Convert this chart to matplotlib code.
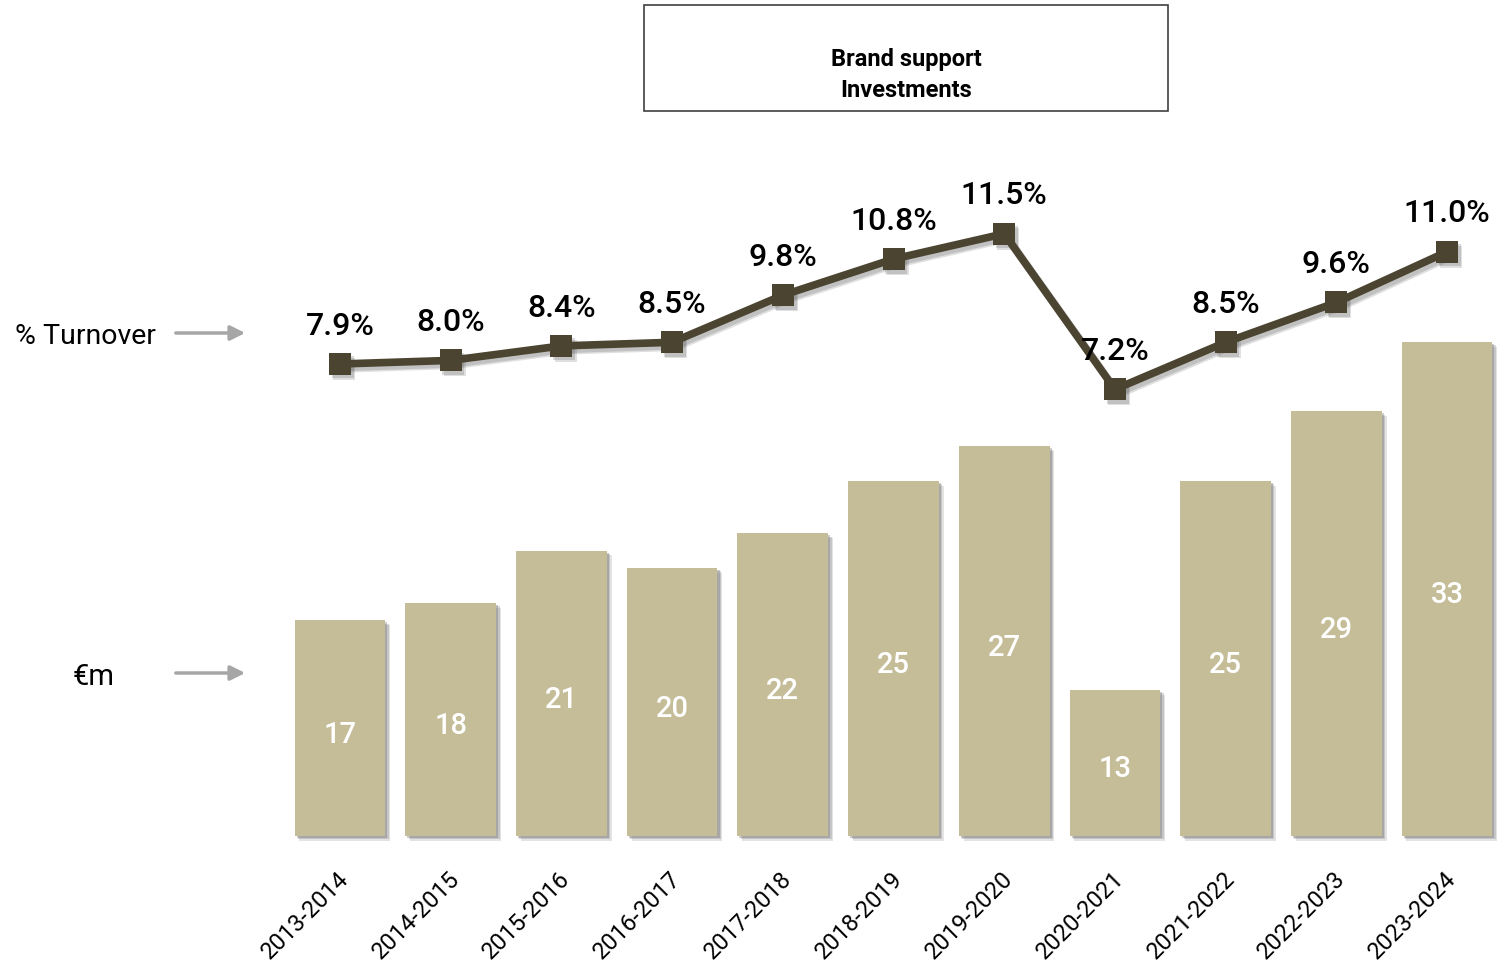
import matplotlib
matplotlib.use('Agg')
import matplotlib.pyplot as plt
import matplotlib.patheffects as pe
from matplotlib.patches import Rectangle, FancyArrowPatch
from matplotlib.transforms import offset_copy

plt.rcParams['font.family'] = ['Roboto', 'DejaVu Sans']

seasons = ['2013-2014', '2014-2015', '2015-2016', '2016-2017', '2017-2018',
           '2018-2019', '2019-2020', '2020-2021', '2021-2022', '2022-2023',
           '2023-2024']
invest_eur_m = [17, 18, 21, 20, 22, 25, 27, 13, 25, 29, 33]
pct_turnover = [7.9, 8.0, 8.4, 8.5, 9.8, 10.8, 11.5, 7.2, 8.5, 9.6, 11.0]

BAR = '#c5bd98'
LINE = '#4b4431'
W, H = 1505, 962


def fx(px):
    return px / W


def fy(py):
    return 1 - py / H


fig = plt.figure(figsize=(W / 100, H / 100), dpi=100)
ax = fig.add_axes([fx(284.65), fy(837), (1502.35 - 284.65) / W, (837 - 150) / H])
x = list(range(len(seasons)))

# bars (value axis does not start at zero)
base = 4.6
ax.set_ylim(base, 44.08)
ax.set_xlim(-0.5, len(seasons) - 0.5)
# soft drop shadow built from a few faint offset copies
bar_shadow = [pe.SimplePatchShadow(offset=(3.5, -3.5), shadow_rgbFace='#909090', alpha=0.25),
              pe.SimplePatchShadow(offset=(2.5, -2.5), shadow_rgbFace='#808080', alpha=0.3),
              pe.SimplePatchShadow(offset=(1.5, -1.5), shadow_rgbFace='#707070', alpha=0.35),
              pe.Normal()]
bars = ax.bar(x, [v - base for v in invest_eur_m], bottom=base, width=0.82,
              color=BAR, zorder=2, clip_on=False)
for b in bars:
    b.set_path_effects(bar_shadow)
for i, v in enumerate(invest_eur_m):
    ax.annotate(str(v), (i, (base + v) / 2), xytext=(0, -4), textcoords='offset points',
                ha='center', va='center', color='white', fontsize=21,
                fontweight='medium', zorder=5)

# turnover share line on its own scale
ax2 = ax.twinx()
ax2.set_ylim(-5.14, 13.84)
for dx, dy, al in ((3, -3.5, 0.18), (2, -2.5, 0.22)):
    ax2.plot(x, pct_turnover, color='#555555', alpha=al, lw=5.5, marker='s',
             markersize=16.5, markeredgewidth=0, zorder=2.5, clip_on=False,
             transform=offset_copy(ax2.transData, fig=fig, x=dx, y=dy, units='points'))
ax2.plot(x, pct_turnover, color=LINE, lw=5.5, marker='s', markersize=16.5,
         markeredgewidth=0, zorder=3, clip_on=False)
for i, v in enumerate(pct_turnover):
    ax2.annotate(f'{v:.1f}%', (i, v), xytext=(0, 28), textcoords='offset points',
                 ha='center', va='center', color='black', fontsize=23,
                 fontweight='medium', zorder=6)

for a in (ax, ax2):
    for s in a.spines.values():
        s.set_visible(False)
    a.set_yticks([])
    a.set_xticks([])

# rotated season labels under the bars
tick_tr = offset_copy(ax.get_xaxis_transform(), fig=fig, x=-2, y=-22, units='points')
for i, lab in enumerate(seasons):
    ax.text(i, 0, lab, transform=tick_tr, rotation=45, rotation_mode='anchor',
            ha='right', va='top', fontsize=17, color='black')

# series captions with arrows on the left
fig.text(fx(15), fy(336), '% Turnover', ha='left', va='center', fontsize=20.5)
fig.text(fx(73), fy(677), '€m', ha='left', va='center', fontsize=21)
for yy in (334, 674):
    fig.add_artist(FancyArrowPatch((fx(173), fy(yy)), (fx(248), fy(yy)),
                                   transform=fig.transFigure, arrowstyle='-|>',
                                   mutation_scale=22, color='#a6a6a6', lw=2.5))

# title box
fig.add_artist(Rectangle((fx(644), fy(112)), (1168 - 644) / W, (112 - 6) / H,
                         transform=fig.transFigure, fill=False,
                         edgecolor='#404040', lw=1.2))
fig.text(fx(906), fy(75), 'Brand support\nInvestments', ha='center', va='center',
         fontsize=17, fontweight='bold', linespacing=1.4)

fig.savefig('out.png', dpi=100)
